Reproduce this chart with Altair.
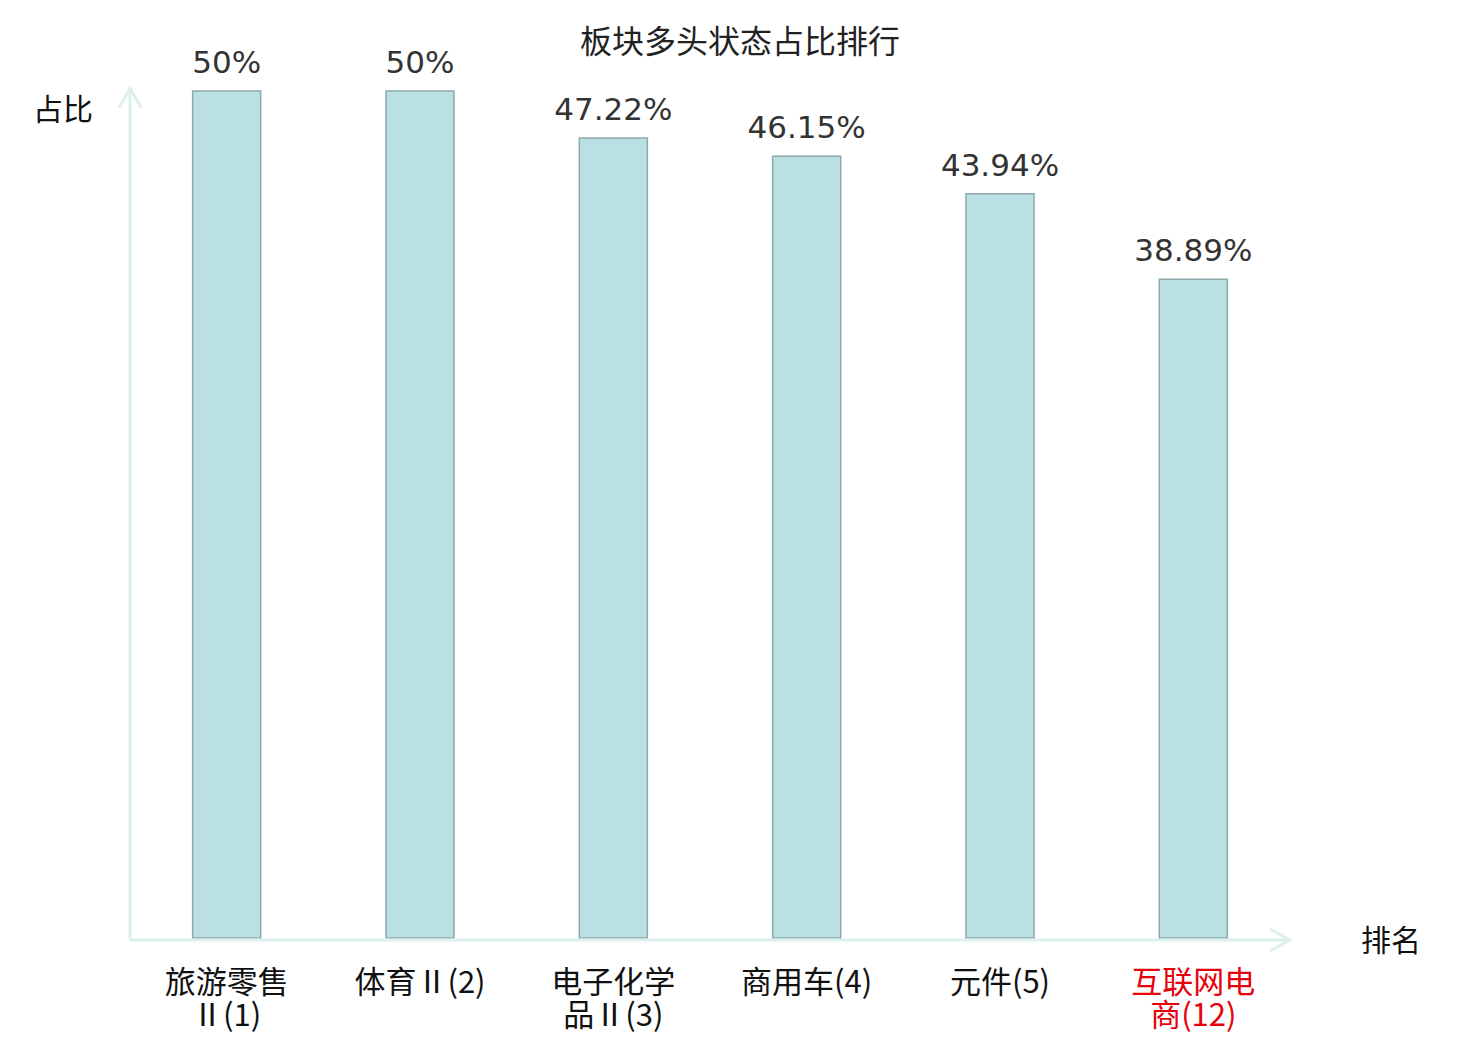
import altair as alt
import pandas as pd

categories = ["旅游零售Ⅱ(1)", "体育Ⅱ(2)", "电子化学品Ⅱ(3)", "商用车(4)", "元件(5)", "互联网电商(12)"]
display_labels = ["旅游零售\nⅡ(1)", "体育Ⅱ(2)", "电子化学\n品Ⅱ(3)", "商用车(4)", "元件(5)", "互联网电\n商(12)"]
values = [0.5, 0.5, 0.4722, 0.4615, 0.4394, 0.3889]
value_labels = ["50%", "50%", "47.22%", "46.15%", "43.94%", "38.89%"]
highlight = [False, False, False, False, False, True]

df = pd.DataFrame({
    "cat": categories,
    "label": display_labels,
    "value": values,
    "vlabel": value_labels,
    "hl": highlight,
})

W, H = 1160, 847
AXIS_COLOR = "#DCF1EE"

xenc = alt.X("cat:N", sort=categories, axis=None,
             scale=alt.Scale(paddingInner=0.648, paddingOuter=0.324))
yscale = alt.Scale(domain=[0, 0.5])

base = alt.Chart(df)

bars = base.mark_bar(fill="#BBE0E3", stroke="#8FA9AB", strokeWidth=1.5).encode(
    x=xenc, y=alt.Y("value:Q", scale=yscale, axis=None)
)

vtext = base.mark_text(font="DejaVu Sans", fontSize=31, color="#333333",
                       baseline="alphabetic", dy=-18).encode(
    x=xenc, y=alt.Y("value:Q", scale=yscale), text="vlabel:N"
)

ctext = base.mark_text(font="Noto Sans CJK SC", fontSize=31, baseline="top",
                       lineBreak="\n", lineHeight=33).encode(
    x=xenc, y=alt.value(H + 31), text="label:N",
    color=alt.condition("datum.hl", alt.value("#E8000B"), alt.value("#111111"))
)

ann = pd.DataFrame({"t": [0]})
abase = alt.Chart(ann)

yaxis = abase.mark_rule(color=AXIS_COLOR, strokeWidth=3).encode(
    x=alt.value(0), y=alt.value(-2), y2=alt.value(H + 2)
)
xaxis = abase.mark_rule(color=AXIS_COLOR, strokeWidth=3).encode(
    x=alt.value(0), x2=alt.value(W), y=alt.value(H + 2)
)
yarrow = abase.mark_point(shape="M-0.55,1L0,0L0.55,1", size=1600, filled=False,
                          color=AXIS_COLOR, strokeWidth=3, opacity=1).encode(
    x=alt.value(0), y=alt.value(-3)
)
xarrow = abase.mark_point(shape="M-1,-0.55L0,0L-1,0.55", size=1600, filled=False,
                          color=AXIS_COLOR, strokeWidth=3, opacity=1).encode(
    x=alt.value(W), y=alt.value(H + 2)
)

ylab = abase.mark_text(text="占比", font="Noto Sans CJK SC", fontSize=30,
                       color="#111111", align="center", baseline="middle").encode(
    x=alt.value(-67), y=alt.value(20)
)
xlab = abase.mark_text(text="排名", font="Noto Sans CJK SC", fontSize=30,
                       color="#111111", align="center", baseline="middle").encode(
    x=alt.value(W + 101), y=alt.value(H + 4)
)
title = abase.mark_text(text="板块多头状态占比排行", font="Noto Sans CJK SC", fontSize=32,
                        color="#222222", align="center", baseline="middle").encode(
    x=alt.value(610), y=alt.value(-48)
)

chart = alt.layer(bars, vtext, ctext, yaxis, xaxis, yarrow, xarrow, ylab, xlab, title).properties(
    width=W, height=H,
    autosize=alt.AutoSizeParams(type="none"),
    padding={"left": 122, "top": 83, "right": 180, "bottom": 100},
).configure_view(stroke=None)

chart.save("out.html", embed_options={"renderer": "svg", "actions": False})
